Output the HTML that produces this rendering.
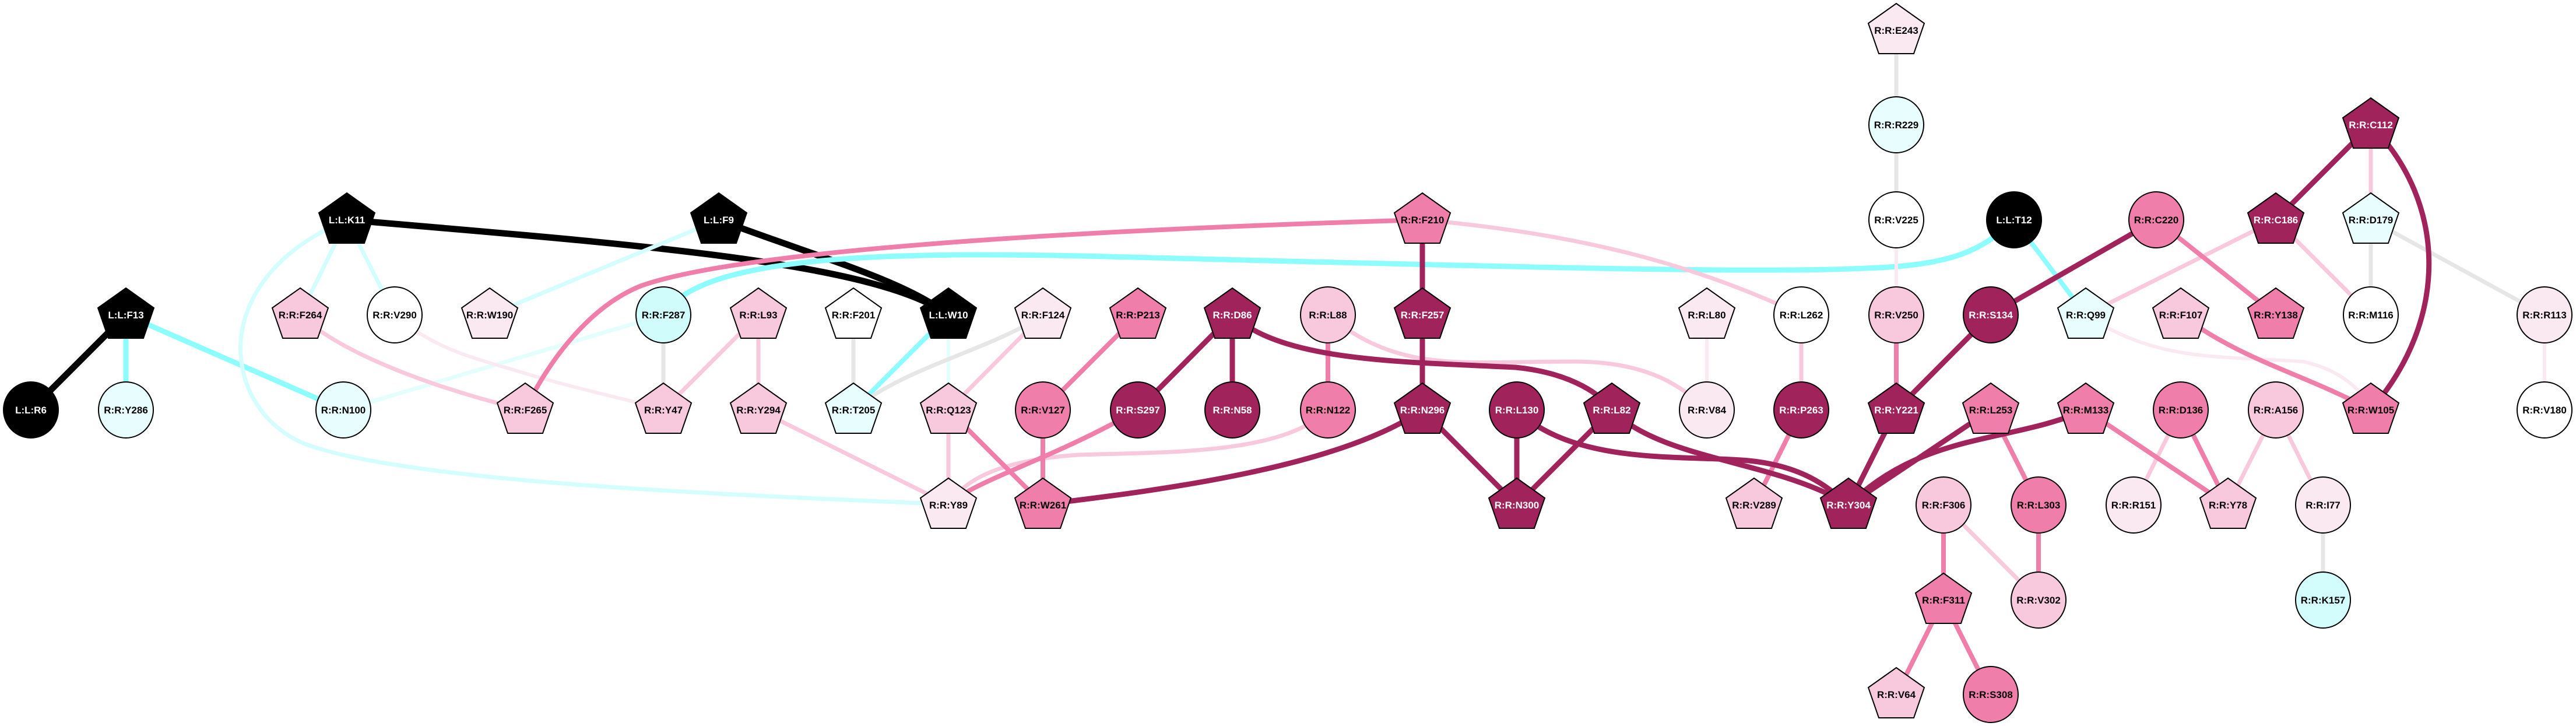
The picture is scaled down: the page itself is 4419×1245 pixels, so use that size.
<!DOCTYPE html>
<html><head><meta charset="utf-8"><style>
html,body{margin:0;padding:0;background:#fff;}
svg{display:block;}
text{font-family:"Liberation Sans",sans-serif;font-weight:bold;font-size:17px;text-anchor:middle;}
.w{fill:#fff;}
</style></head><body>
<svg width="4419" height="1245" viewBox="0 0 4419 1245" xmlns="http://www.w3.org/2000/svg">
<g fill="none" stroke-linecap="round">
<!-- black -->
<path d="M595,377 C1100,420 1500,450 1627,540" stroke="#000" stroke-width="11"/>
<path d="M1233,377 C1400,440 1550,480 1627,540" stroke="#000" stroke-width="11"/>
<path d="M216,540 L53,703" stroke="#000" stroke-width="11"/>
<!-- cyan -->
<path d="M216,540 L216,703" stroke="#8cfcfc" stroke-width="9"/>
<path d="M216,540 L589,703" stroke="#8cfcfc" stroke-width="9"/>
<path d="M1138,540 C1200,440 1500,430 1900,440 C2500,455 3000,470 3200,460 C3350,455 3400,430 3455,377" stroke="#8cfcfc" stroke-width="9"/>
<path d="M1627,540 L1464,703" stroke="#8cfcfc" stroke-width="8"/>
<path d="M3455,377 L3578,540" stroke="#8cfcfc" stroke-width="8"/>
<!-- light cyan -->
<path d="M595,377 L515,540" stroke="#d4fefe" stroke-width="7"/>
<path d="M595,377 L677,540" stroke="#d4fefe" stroke-width="7"/>
<path d="M595,377 C350,480 380,700 520,760 C700,830 1300,850 1627,865" stroke="#d4fefe" stroke-width="7"/>
<path d="M1233,377 L840,540" stroke="#d4fefe" stroke-width="7"/>
<path d="M1138,540 L589,703" stroke="#e4fefe" stroke-width="7"/>
<path d="M1627,540 L1627,703" stroke="#e4fefe" stroke-width="6"/>
<!-- gray -->
<path d="M1138,540 L1138,703" stroke="#e6e6e6" stroke-width="7"/>
<path d="M1464,540 L1464,703" stroke="#e6e6e6" stroke-width="7"/>
<path d="M1789,540 C1700,600 1550,630 1464,703" stroke="#e6e6e6" stroke-width="7"/>
<path d="M3253,52 L3253,214 L3253,377" stroke="#e6e6e6" stroke-width="7"/>
<path d="M4067,377 L4067,540" stroke="#e6e6e6" stroke-width="7"/>
<path d="M4067,377 L4365,540" stroke="#e6e6e6" stroke-width="7"/>
<path d="M3985,866 L3985,1029" stroke="#e6e6e6" stroke-width="7"/>
<!-- very light pink -->
<path d="M677,540 C750,600 800,610 900,640 C1000,670 1100,690 1138,703" stroke="#fbe9f1" stroke-width="6"/>
<path d="M2928,540 L2928,703" stroke="#fbe9f1" stroke-width="6"/>
<path d="M3253,377 L3253,540" stroke="#fbe9f1" stroke-width="6"/>
<path d="M4365,540 L4365,703" stroke="#fbe9f1" stroke-width="6"/>
<path d="M3578,540 C3700,620 3800,610 3950,620 C4000,630 4050,660 4067,703" stroke="#fbe9f1" stroke-width="6"/>
<!-- pink -->
<path d="M515,540 C600,620 800,680 901,703" stroke="#f8c8dc" stroke-width="7"/>
<path d="M1301,540 L1138,703" stroke="#f8c8dc" stroke-width="7"/>
<path d="M1301,540 L1301,703" stroke="#f8c8dc" stroke-width="7"/>
<path d="M1301,703 L1627,865" stroke="#f8c8dc" stroke-width="7"/>
<path d="M1789,540 L1627,703" stroke="#f8c8dc" stroke-width="7"/>
<path d="M1627,703 L1627,865" stroke="#f8c8dc" stroke-width="7"/>
<path d="M2440,377 C2700,400 2900,450 3090,540" stroke="#f8c8dc" stroke-width="7"/>
<path d="M2278,540 C2400,640 2500,620 2700,620 C2850,620 2900,680 2928,703" stroke="#f8c8dc" stroke-width="7"/>
<path d="M2278,703 C2200,780 2000,775 1850,780 C1700,790 1650,830 1627,865" stroke="#f8c8dc" stroke-width="7"/>
<path d="M3090,540 L3090,703" stroke="#f8c8dc" stroke-width="7"/>
<path d="M3904,377 L3578,540" stroke="#f8c8dc" stroke-width="7"/>
<path d="M3904,377 L4067,540" stroke="#f8c8dc" stroke-width="7"/>
<path d="M4067,214 L4067,377" stroke="#f8c8dc" stroke-width="7"/>
<path d="M3741,703 L3660,866" stroke="#f8c8dc" stroke-width="7"/>
<path d="M3904,703 L3822,866" stroke="#f8c8dc" stroke-width="7"/>
<path d="M3904,703 L3985,866" stroke="#f8c8dc" stroke-width="7"/>
<path d="M3334,866 L3497,1029" stroke="#f8c8dc" stroke-width="7"/>
<!-- mid pink -->
<path d="M2440,377 C2000,390 1300,420 1100,490 C1000,530 930,640 901,703" stroke="#f07eab" stroke-width="8"/>
<path d="M1627,703 L1789,865" stroke="#f07eab" stroke-width="8"/>
<path d="M1952,540 L1789,703 L1789,865" stroke="#f07eab" stroke-width="8"/>
<path d="M1952,703 C1800,790 1680,820 1627,865" stroke="#f07eab" stroke-width="8"/>
<path d="M2278,540 L2278,703" stroke="#f07eab" stroke-width="8"/>
<path d="M3090,703 L3009,866" stroke="#f07eab" stroke-width="8"/>
<path d="M3253,540 L3253,703" stroke="#f07eab" stroke-width="8"/>
<path d="M3699,377 L3904,540" stroke="#f07eab" stroke-width="8"/>
<path d="M3741,540 C3850,620 3950,640 4067,703" stroke="#f07eab" stroke-width="8"/>
<path d="M3415,703 L3497,866 L3497,1029" stroke="#f07eab" stroke-width="8"/>
<path d="M3578,703 L3822,866" stroke="#f07eab" stroke-width="8"/>
<path d="M3741,703 L3822,866" stroke="#f07eab" stroke-width="8"/>
<path d="M3334,866 L3334,1029" stroke="#f07eab" stroke-width="8"/>
<path d="M3334,1029 L3253,1191" stroke="#f07eab" stroke-width="8"/>
<path d="M3334,1029 L3415,1191" stroke="#f07eab" stroke-width="8"/>
<!-- dark -->
<path d="M2440,377 L2440,540 L2440,703" stroke="#a0235c" stroke-width="9"/>
<path d="M2114,540 L1952,703" stroke="#a0235c" stroke-width="9"/>
<path d="M2114,540 L2114,703" stroke="#a0235c" stroke-width="9"/>
<path d="M2114,540 C2200,620 2400,620 2600,630 C2700,640 2750,680 2765,703" stroke="#a0235c" stroke-width="9"/>
<path d="M2440,703 C2300,800 2000,840 1789,865" stroke="#a0235c" stroke-width="9"/>
<path d="M2440,703 L2602,866" stroke="#a0235c" stroke-width="9"/>
<path d="M2602,703 L2602,866" stroke="#a0235c" stroke-width="9"/>
<path d="M2765,703 L2602,866" stroke="#a0235c" stroke-width="9"/>
<path d="M2602,703 C2700,800 2900,780 3000,790 C3100,800 3140,840 3171,866" stroke="#a0235c" stroke-width="9"/>
<path d="M2765,703 C2850,790 3050,790 3171,866" stroke="#a0235c" stroke-width="9"/>
<path d="M3578,703 C3450,760 3300,740 3171,866" stroke="#a0235c" stroke-width="9"/>
<path d="M3253,703 L3171,866" stroke="#a0235c" stroke-width="9"/>
<path d="M3415,703 L3171,866" stroke="#a0235c" stroke-width="9"/>
<path d="M3415,540 L3253,703" stroke="#a0235c" stroke-width="9"/>
<path d="M3699,377 L3415,540" stroke="#a0235c" stroke-width="9"/>
<path d="M4067,214 L3904,377" stroke="#a0235c" stroke-width="9"/>
<path d="M4067,214 C4200,350 4200,550 4067,703" stroke="#a0235c" stroke-width="9"/>
</g>
<g stroke="#000" stroke-width="2">
<!-- Row 0 -->
<g transform="translate(3253,52)"><path d="M0,-46 L48,-12 L30,40 L-30,40 L-48,-12Z" fill="#fbe9f1"/><text y="6" stroke="none">R:R:E243</text></g>
<!-- Row 1 -->
<g transform="translate(3253,214)"><ellipse rx="47" ry="48" fill="#e8fefe"/><text y="6" stroke="none">R:R:R229</text></g>
<g transform="translate(4067,214)"><path d="M0,-46 L48,-12 L30,40 L-30,40 L-48,-12Z" fill="#a0235c"/><text y="6" stroke="none" class="w">R:R:C112</text></g>
<!-- Row 2 -->
<g transform="translate(595,377)"><path d="M0,-46 L48,-12 L30,40 L-30,40 L-48,-12Z" fill="#000"/><text y="6" stroke="none" class="w">L:L:K11</text></g>
<g transform="translate(1233,377)"><path d="M0,-46 L48,-12 L30,40 L-30,40 L-48,-12Z" fill="#000"/><text y="6" stroke="none" class="w">L:L:F9</text></g>
<g transform="translate(2440,377)"><path d="M0,-46 L48,-12 L30,40 L-30,40 L-48,-12Z" fill="#f07eab"/><text y="6" stroke="none">R:R:F210</text></g>
<g transform="translate(3253,377)"><ellipse rx="47" ry="48" fill="#fff"/><text y="6" stroke="none">R:R:V225</text></g>
<g transform="translate(3455,377)"><ellipse rx="47" ry="48" fill="#000"/><text y="6" stroke="none" class="w">L:L:T12</text></g>
<g transform="translate(3699,377)"><ellipse rx="47" ry="48" fill="#f07eab"/><text y="6" stroke="none">R:R:C220</text></g>
<g transform="translate(3904,377)"><path d="M0,-46 L48,-12 L30,40 L-30,40 L-48,-12Z" fill="#a0235c"/><text y="6" stroke="none" class="w">R:R:C186</text></g>
<g transform="translate(4067,377)"><path d="M0,-46 L48,-12 L30,40 L-30,40 L-48,-12Z" fill="#e8fefe"/><text y="6" stroke="none">R:R:D179</text></g>
<!-- Row 3 -->
<g transform="translate(216,540)"><path d="M0,-46 L48,-12 L30,40 L-30,40 L-48,-12Z" fill="#000"/><text y="6" stroke="none" class="w">L:L:F13</text></g>
<g transform="translate(515,540)"><path d="M0,-46 L48,-12 L30,40 L-30,40 L-48,-12Z" fill="#f8c8dc"/><text y="6" stroke="none">R:R:F264</text></g>
<g transform="translate(677,540)"><ellipse rx="47" ry="48" fill="#fff"/><text y="6" stroke="none">R:R:V290</text></g>
<g transform="translate(840,540)"><path d="M0,-46 L48,-12 L30,40 L-30,40 L-48,-12Z" fill="#fbe9f1"/><text y="6" stroke="none">R:R:W190</text></g>
<g transform="translate(1138,540)"><ellipse rx="47" ry="48" fill="#d0fcfc"/><text y="6" stroke="none">R:R:F287</text></g>
<g transform="translate(1301,540)"><path d="M0,-46 L48,-12 L30,40 L-30,40 L-48,-12Z" fill="#f8c8dc"/><text y="6" stroke="none">R:R:L93</text></g>
<g transform="translate(1464,540)"><path d="M0,-46 L48,-12 L30,40 L-30,40 L-48,-12Z" fill="#fff"/><text y="6" stroke="none">R:R:F201</text></g>
<g transform="translate(1627,540)"><path d="M0,-46 L48,-12 L30,40 L-30,40 L-48,-12Z" fill="#000"/><text y="6" stroke="none" class="w">L:L:W10</text></g>
<g transform="translate(1789,540)"><path d="M0,-46 L48,-12 L30,40 L-30,40 L-48,-12Z" fill="#fbe9f1"/><text y="6" stroke="none">R:R:F124</text></g>
<g transform="translate(1952,540)"><path d="M0,-46 L48,-12 L30,40 L-30,40 L-48,-12Z" fill="#f07eab"/><text y="6" stroke="none">R:R:P213</text></g>
<g transform="translate(2114,540)"><path d="M0,-46 L48,-12 L30,40 L-30,40 L-48,-12Z" fill="#a0235c"/><text y="6" stroke="none" class="w">R:R:D86</text></g>
<g transform="translate(2278,540)"><ellipse rx="47" ry="48" fill="#f8c8dc"/><text y="6" stroke="none">R:R:L88</text></g>
<g transform="translate(2440,540)"><path d="M0,-46 L48,-12 L30,40 L-30,40 L-48,-12Z" fill="#a0235c"/><text y="6" stroke="none" class="w">R:R:F257</text></g>
<g transform="translate(2928,540)"><path d="M0,-46 L48,-12 L30,40 L-30,40 L-48,-12Z" fill="#fbe9f1"/><text y="6" stroke="none">R:R:L80</text></g>
<g transform="translate(3090,540)"><ellipse rx="47" ry="48" fill="#fff"/><text y="6" stroke="none">R:R:L262</text></g>
<g transform="translate(3253,540)"><ellipse rx="47" ry="48" fill="#f8c8dc"/><text y="6" stroke="none">R:R:V250</text></g>
<g transform="translate(3415,540)"><ellipse rx="47" ry="48" fill="#a0235c"/><text y="6" stroke="none" class="w">R:R:S134</text></g>
<g transform="translate(3578,540)"><path d="M0,-46 L48,-12 L30,40 L-30,40 L-48,-12Z" fill="#e8fefe"/><text y="6" stroke="none">R:R:Q99</text></g>
<g transform="translate(3741,540)"><path d="M0,-46 L48,-12 L30,40 L-30,40 L-48,-12Z" fill="#f8c8dc"/><text y="6" stroke="none">R:R:F107</text></g>
<g transform="translate(3904,540)"><path d="M0,-46 L48,-12 L30,40 L-30,40 L-48,-12Z" fill="#f07eab"/><text y="6" stroke="none">R:R:Y138</text></g>
<g transform="translate(4067,540)"><ellipse rx="47" ry="48" fill="#fff"/><text y="6" stroke="none">R:R:M116</text></g>
<g transform="translate(4365,540)"><ellipse rx="47" ry="48" fill="#fbe9f1"/><text y="6" stroke="none">R:R:R113</text></g>
<!-- Row 4 -->
<g transform="translate(53,703)"><ellipse rx="47" ry="48" fill="#000"/><text y="6" stroke="none" class="w">L:L:R6</text></g>
<g transform="translate(216,703)"><ellipse rx="47" ry="48" fill="#e8fefe"/><text y="6" stroke="none">R:R:Y286</text></g>
<g transform="translate(589,703)"><ellipse rx="47" ry="48" fill="#e8fefe"/><text y="6" stroke="none">R:R:N100</text></g>
<g transform="translate(901,703)"><path d="M0,-46 L48,-12 L30,40 L-30,40 L-48,-12Z" fill="#f8c8dc"/><text y="6" stroke="none">R:R:F265</text></g>
<g transform="translate(1138,703)"><path d="M0,-46 L48,-12 L30,40 L-30,40 L-48,-12Z" fill="#f8c8dc"/><text y="6" stroke="none">R:R:Y47</text></g>
<g transform="translate(1301,703)"><path d="M0,-46 L48,-12 L30,40 L-30,40 L-48,-12Z" fill="#f8c8dc"/><text y="6" stroke="none">R:R:Y294</text></g>
<g transform="translate(1464,703)"><path d="M0,-46 L48,-12 L30,40 L-30,40 L-48,-12Z" fill="#e8fefe"/><text y="6" stroke="none">R:R:T205</text></g>
<g transform="translate(1627,703)"><path d="M0,-46 L48,-12 L30,40 L-30,40 L-48,-12Z" fill="#f8c8dc"/><text y="6" stroke="none">R:R:Q123</text></g>
<g transform="translate(1789,703)"><ellipse rx="47" ry="48" fill="#f07eab"/><text y="6" stroke="none">R:R:V127</text></g>
<g transform="translate(1952,703)"><ellipse rx="47" ry="48" fill="#a0235c"/><text y="6" stroke="none" class="w">R:R:S297</text></g>
<g transform="translate(2114,703)"><ellipse rx="47" ry="48" fill="#a0235c"/><text y="6" stroke="none" class="w">R:R:N58</text></g>
<g transform="translate(2278,703)"><ellipse rx="47" ry="48" fill="#f07eab"/><text y="6" stroke="none">R:R:N122</text></g>
<g transform="translate(2440,703)"><path d="M0,-46 L48,-12 L30,40 L-30,40 L-48,-12Z" fill="#a0235c"/><text y="6" stroke="none" class="w">R:R:N296</text></g>
<g transform="translate(2602,703)"><ellipse rx="47" ry="48" fill="#a0235c"/><text y="6" stroke="none" class="w">R:R:L130</text></g>
<g transform="translate(2765,703)"><path d="M0,-46 L48,-12 L30,40 L-30,40 L-48,-12Z" fill="#a0235c"/><text y="6" stroke="none" class="w">R:R:L82</text></g>
<g transform="translate(2928,703)"><ellipse rx="47" ry="48" fill="#fbe9f1"/><text y="6" stroke="none">R:R:V84</text></g>
<g transform="translate(3090,703)"><ellipse rx="47" ry="48" fill="#a0235c"/><text y="6" stroke="none" class="w">R:R:P263</text></g>
<g transform="translate(3253,703)"><path d="M0,-46 L48,-12 L30,40 L-30,40 L-48,-12Z" fill="#a0235c"/><text y="6" stroke="none" class="w">R:R:Y221</text></g>
<g transform="translate(3415,703)"><path d="M0,-46 L48,-12 L30,40 L-30,40 L-48,-12Z" fill="#f07eab"/><text y="6" stroke="none">R:R:L253</text></g>
<g transform="translate(3578,703)"><path d="M0,-46 L48,-12 L30,40 L-30,40 L-48,-12Z" fill="#f07eab"/><text y="6" stroke="none">R:R:M133</text></g>
<g transform="translate(3741,703)"><ellipse rx="47" ry="48" fill="#f07eab"/><text y="6" stroke="none">R:R:D136</text></g>
<g transform="translate(3904,703)"><ellipse rx="47" ry="48" fill="#f8c8dc"/><text y="6" stroke="none">R:R:A156</text></g>
<g transform="translate(4067,703)"><path d="M0,-46 L48,-12 L30,40 L-30,40 L-48,-12Z" fill="#f07eab"/><text y="6" stroke="none">R:R:W105</text></g>
<g transform="translate(4365,703)"><ellipse rx="47" ry="48" fill="#fff"/><text y="6" stroke="none">R:R:V180</text></g>
<!-- Row 5 -->
<g transform="translate(1627,866)"><path d="M0,-46 L48,-12 L30,40 L-30,40 L-48,-12Z" fill="#fbe9f1"/><text y="6" stroke="none">R:R:Y89</text></g>
<g transform="translate(1789,866)"><path d="M0,-46 L48,-12 L30,40 L-30,40 L-48,-12Z" fill="#f07eab"/><text y="6" stroke="none">R:R:W261</text></g>
<g transform="translate(2602,866)"><path d="M0,-46 L48,-12 L30,40 L-30,40 L-48,-12Z" fill="#a0235c"/><text y="6" stroke="none" class="w">R:R:N300</text></g>
<g transform="translate(3009,866)"><path d="M0,-46 L48,-12 L30,40 L-30,40 L-48,-12Z" fill="#f8c8dc"/><text y="6" stroke="none">R:R:V289</text></g>
<g transform="translate(3171,866)"><path d="M0,-46 L48,-12 L30,40 L-30,40 L-48,-12Z" fill="#a0235c"/><text y="6" stroke="none" class="w">R:R:Y304</text></g>
<g transform="translate(3334,866)"><ellipse rx="47" ry="48" fill="#f8c8dc"/><text y="6" stroke="none">R:R:F306</text></g>
<g transform="translate(3497,866)"><ellipse rx="47" ry="48" fill="#f07eab"/><text y="6" stroke="none">R:R:L303</text></g>
<g transform="translate(3660,866)"><ellipse rx="47" ry="48" fill="#fbe9f1"/><text y="6" stroke="none">R:R:R151</text></g>
<g transform="translate(3822,866)"><path d="M0,-46 L48,-12 L30,40 L-30,40 L-48,-12Z" fill="#f8c8dc"/><text y="6" stroke="none">R:R:Y78</text></g>
<g transform="translate(3985,866)"><ellipse rx="47" ry="48" fill="#fbe9f1"/><text y="6" stroke="none">R:R:I77</text></g>
<!-- Row 6 -->
<g transform="translate(3334,1029)"><path d="M0,-46 L48,-12 L30,40 L-30,40 L-48,-12Z" fill="#f07eab"/><text y="6" stroke="none">R:R:F311</text></g>
<g transform="translate(3497,1029)"><ellipse rx="47" ry="48" fill="#f8c8dc"/><text y="6" stroke="none">R:R:V302</text></g>
<g transform="translate(3985,1029)"><ellipse rx="47" ry="48" fill="#d3fcfd"/><text y="6" stroke="none">R:R:K157</text></g>
<!-- Row 7 -->
<g transform="translate(3253,1191)"><path d="M0,-46 L48,-12 L30,40 L-30,40 L-48,-12Z" fill="#f8c8dc"/><text y="6" stroke="none">R:R:V64</text></g>
<g transform="translate(3415,1191)"><ellipse rx="47" ry="48" fill="#f07eab"/><text y="6" stroke="none">R:R:S308</text></g>
</g>
</svg>
</body></html>
